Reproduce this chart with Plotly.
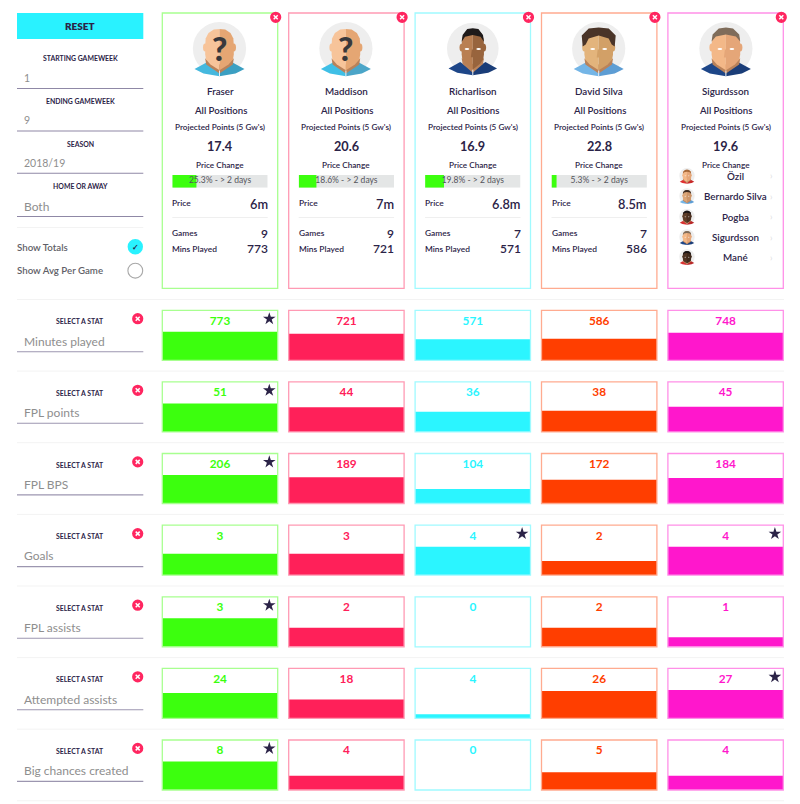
import plotly.graph_objects as go

W, H = 800, 804
FONT = "Lato"
DARK = "#2b2347"
GREY = "#8e8e8e"

players = ["Fraser", "Maddison", "Richarlison", "David Silva", "Sigurdsson"]
colors = ["#3cff0e", "#ff2059", "#2bf5ff", "#ff3e00", "#ff17cc"]
borders = ["#a8ff90", "#ff9ab4", "#a0faff", "#ffab90", "#ff90e8"]
projected = ["17.4", "20.6", "16.9", "22.8", "19.6"]
price_change = [25.3, 18.6, 19.8, 5.3]
prices = ["6m", "7m", "6.8m", "8.5m"]
games = [9, 9, 7, 7]
mins_played = [773, 721, 571, 586]
dropdown_names = ["Özil", "Bernardo Silva", "Pogba", "Sigurdsson", "Mané"]

stat_names = ["Minutes played", "FPL points", "FPL BPS", "Goals", "FPL assists",
              "Attempted assists", "Big chances created"]
minutes_played = [773, 721, 571, 586, 748]
fpl_points = [51, 44, 36, 38, 45]
fpl_bps = [206, 189, 104, 172, 184]
goals = [3, 3, 4, 2, 4]
fpl_assists = [3, 2, 0, 2, 1]
attempted_assists = [24, 18, 4, 26, 27]
big_chances = [8, 4, 0, 5, 4]
stat_values = [minutes_played, fpl_points, fpl_bps, goals, fpl_assists,
               attempted_assists, big_chances]

filters = [("STARTING GAMEWEEK", "1"), ("ENDING GAMEWEEK", "9"),
           ("SEASON", "2018/19"), ("HOME OR AWAY", "Both")]

col_x = list(range(5))
centers = [220 + 126.4 * i for i in col_x]
card_w = 115.4
row_tops = [310.3, 381.9, 453.5, 525.2, 596.8, 668.4, 740.0]
cell_h = 50

shapes = []
notes = []


def rect(x0, y0, x1, y1, fill="rgba(0,0,0,0)", line=None, lw=1.2):
    shapes.append(dict(type="rect", xref="x", yref="y", x0=x0, y0=y0, x1=x1, y1=y1,
                       fillcolor=fill, layer="above",
                       line=dict(color=line or "rgba(0,0,0,0)", width=lw if line else 0)))


def hline(x0, x1, y, color, lw=1):
    shapes.append(dict(type="line", xref="x", yref="y", x0=x0, x1=x1, y0=y, y1=y,
                       layer="above", line=dict(color=color, width=lw)))


def circle(cx, cy, rx, fill, ry=None, line=None, lw=1.2):
    ry = ry or rx
    shapes.append(dict(type="circle", xref="x", yref="y", x0=cx - rx, x1=cx + rx, y0=cy - ry, y1=cy + ry,
                       fillcolor=fill, layer="above",
                       line=dict(color=line or "rgba(0,0,0,0)", width=lw if line else 0)))


def poly(cx, cy, k, pts, fill):
    path = "M" + " L".join(f"{cx + k * a:.2f} {cy + k * b:.2f}" for a, b in pts) + " Z"
    shapes.append(dict(type="path", xref="x", yref="y", path=path, fillcolor=fill,
                       layer="above", line=dict(width=0)))


def note(x, y, text, size, color=DARK, anchor="center", weight=400):
    # annotations sit about 2px inside their anchor
    x = x - 2 if anchor == "left" else x + 2 if anchor == "right" else x
    notes.append(dict(xref="x", yref="y", x=x, y=y, text=text, showarrow=False, xanchor=anchor,
                      yanchor="middle", font=dict(family=FONT, size=size, color=color, weight=weight)))


def close_btn(cx, cy):
    circle(cx, cy, 5.6, "#ff2660")
    for sign in (1, -1):
        shapes.append(dict(type="line", xref="x", yref="y", x0=cx - 2, x1=cx + 2, y0=cy - 2 * sign, y1=cy + 2 * sign,
                           layer="above", line=dict(color="white", width=1.5)))


def avatar(cx, cy, k, skin, shirt, hair=None, wide=14.3, long_hair=False, question=False):
    half = [(0, -19.5), (0.4 * wide, -19), (0.77 * wide, -15.5), (0.97 * wide, -10), (wide, -3), (wide, 6),
            (0.94 * wide, 11), (0.63 * wide, 16), (0, 21.7)]
    circle(cx, cy, 26.6 * k, "#eeeeee")
    for side, tone_s in ((-1, shirt[0]), (1, shirt[1])):
        poly(cx, cy, k, [(0, 23), (side * 13, 14), (side * 25, 20.5), (side * 16, 25), (0, 27.7)], tone_s)
    poly(cx, cy, k, [(-wide, 10), (0, 16), (wide, 10), (wide - 1, 16), (0, 25), (-wide + 1, 16)], "#b9825a")
    circle(cx - wide * k, cy - 1 * k, 2.2 * k, skin[0], ry=4 * k)
    circle(cx + wide * k, cy - 1 * k, 2.2 * k, skin[1], ry=4 * k)
    poly(cx, cy, k, [(-a, b) for a, b in half], skin[0])
    poly(cx, cy, k, half, skin[1])
    poly(cx, cy, k, [(-0.5, 22), (0.5, 22), (0.5, 27.7), (-0.5, 27.7)], "#e8eef4")
    if hair:
        if long_hair:
            poly(cx, cy, k, [(-16, -2), (-17, -13), (-10, -20), (0, -21), (10, -20), (17, -13), (16, -2),
                             (13, -4), (10, -10), (0, -13), (-10, -10), (-13, -4)], hair)
        else:
            poly(cx, cy, k, [(-wide, -7), (-wide + 1, -14), (-0.5 * wide, -20), (0, -21), (0.5 * wide, -20),
                             (wide - 1, -14), (wide, -7), (0.7 * wide, -12), (0, -14), (-0.7 * wide, -12)], hair)
    if question:
        note(cx, cy - 1, "?", 33, "#38383c", weight=900)
    else:
        circle(cx - 6 * k, cy + 0.5 * k, 2.4 * k, "white", ry=1 * k)
        circle(cx + 6 * k, cy + 0.5 * k, 2.4 * k, "white", ry=1 * k)
        poly(cx, cy, k, [(-1, 1), (1, 1), (2, 9), (-2, 9)], skin[1])


# big avatars, one for each card
pale = ("#f7c49a", "#e5a673")
avatar(centers[0] - 0.5, 48.5, 1, pale, ("#45b8de", "#3b9fc2"), question=True)
avatar(centers[1] - 0.5, 48.5, 1, pale, ("#3fbfe6", "#4ba5c8"), question=True)
avatar(centers[2], 48.5, 0.97, ("#b97f52", "#98643d"), ("#1d4688", "#1a3d78"), hair="#1e1a1a", wide=11.5)
avatar(centers[3] - 0.5, 48.5, 1, ("#e3b47c", "#d2a067"), ("#74b5e6", "#5d9dd4"), hair="#4a3428", long_hair=True)
avatar(centers[4] + 0.3, 48.5, 1, ("#f3b888", "#e5a678"), ("#1d4688", "#1a3d78"), hair="#7f6c5a")

# player cards
for i, name in enumerate(players):
    c = centers[i]
    left, right = c - card_w / 2, c + card_w / 2
    rect(left, 13, right, 288.3, line=borders[i], lw=1.3)
    close_btn(right - 2, 17.3)
    note(c, 91, name, 9.8, weight=600)
    note(c, 110.7, "All Positions", 9.6, weight=600)
    note(c, 127.3, "Projected Points (5 Gw's)", 8.2, weight=600)
    note(c, 145.7, projected[i], 12.7, weight=700)
    note(c, 165, "Price Change", 8.2, weight=600)
    if i < 4:
        note(left + 10, 203, "Price", 8.4, anchor="left", weight=600)
        note(right - 10, 203.5, prices[i], 12.8, anchor="right", weight=600)
        hline(left + 10, right - 10, 217.5, "#efefef")
        note(left + 10, 233, "Games", 8.4, anchor="left", weight=600)
        note(right - 10, 233, str(games[i]), 12, anchor="right", weight=600)
        note(left + 10, 248.5, "Mins Played", 8.4, anchor="left", weight=600)
        note(right - 10, 248.5, str(mins_played[i]), 12, anchor="right", weight=600)

# dropdown open on the last card
drop_ys = [175.7, 196, 216.7, 237, 257]
mini = [(("#f3b888", "#e5a678"), ("#e03030", "#c82828"), "#a86a3a"),
        (("#dca678", "#cc9468"), ("#74b5e6", "#5d9dd4"), "#3a2a20"),
        (("#5e3d28", "#4c3020"), ("#d83030", "#b82828"), "#1a1414"),
        (("#f3b888", "#e5a678"), ("#1d4688", "#1a3d78"), "#7f6c5a"),
        (("#4f3424", "#402a1c"), ("#d83030", "#b82828"), "#1a1414")]
for n, y, m in zip(dropdown_names, drop_ys, mini):
    avatar(687, y, 0.29, m[0], m[1], hair=m[2])
    note(735, y, n, 9.8, weight=600)
    note(771.7, y, "›", 9, "#dddddd")

# left panel
rect(17, 13, 143.3, 39, fill="#29f2ff")
note(80, 26, "RESET", 10, weight=800)
for (label, value), y_label, y_value, y_line in zip(filters, [58.3, 101, 143.5, 186], [78, 120.3, 163, 206],
                                                    [88.5, 131, 173.3, 216.5]):
    note(80, y_label, label, 6.9, weight=700)
    note(24, y_value, value, 10.5 if value[0].isdigit() else 12, GREY, anchor="left")
    hline(17, 143.3, y_line, "#8f88a6", 1.1)
hline(17, 143.3, 227.5, "#f3f3f3")
note(17, 246.5, "Show Totals", 9.7, "#5f5f68", anchor="left", weight=600)
note(17, 270, "Show Avg Per Game", 9.7, "#5f5f68", anchor="left", weight=600)
circle(135.3, 246.7, 7.7, "#29f2ff")
note(135.3, 246.7, "✓", 8, DARK, weight=700)
circle(135.3, 270.7, 7.4, "white", line="#a8a8a8", lw=1.1)

# stat row chrome
for name, top in zip(stat_names, row_tops):
    hline(17, 784, top - 10.8, "#f3f3f3")
    note(80, top + 11, "SELECT A STAT", 6.9, weight=700)
    close_btn(137.7, top + 8.4)
    note(24, top + 30.7, name, 12, GREY, anchor="left")
    hline(17, 143.3, top + 41.4, "#9c96b0", 1.1)
    for i in col_x:
        rect(centers[i] - card_w / 2, top, centers[i] + card_w / 2, top + cell_h, line=borders[i], lw=1.3)
hline(17, 784, row_tops[-1] + 60.8, "#f3f3f3")

fig = go.Figure()
axes = {
    "xaxis": dict(domain=[0, 1], range=[0, W], visible=False, fixedrange=True),
    "yaxis": dict(domain=[0, 1], range=[H, 0], visible=False, fixedrange=True),
}
# keeps the pixel axes alive for the shapes and annotations
fig.add_trace(go.Scatter(x=[0, W], y=[0, H], mode="markers", marker=dict(opacity=0), hoverinfo="skip"))

axis_no = 2
x_lo, x_hi = (centers[0] - 63.2) / W, (centers[4] + 63.2) / W
for values, top in zip(stat_values, row_tops):
    y_top = max(values) / 0.57
    axes[f"xaxis{axis_no}"] = dict(domain=[x_lo, x_hi], range=[-0.5, 4.5], visible=False, fixedrange=True,
                                   anchor=f"y{axis_no}")
    axes[f"yaxis{axis_no}"] = dict(domain=[1 - (top + cell_h) / H, 1 - top / H], range=[0, y_top], visible=False,
                                   fixedrange=True, anchor=f"x{axis_no}")
    fig.add_trace(go.Bar(x=col_x, y=values, width=0.913, marker=dict(color=colors, line=dict(width=0)),
                         xaxis=f"x{axis_no}", yaxis=f"y{axis_no}", hoverinfo="skip"))
    fig.add_trace(go.Scatter(x=col_x, y=[y_top * (1 - 11.5 / cell_h)] * 5, mode="text",
                             text=[str(v) for v in values], textposition="middle center", cliponaxis=False,
                             textfont=dict(family=FONT, size=11.8, color=colors, weight=700),
                             xaxis=f"x{axis_no}", yaxis=f"y{axis_no}", hoverinfo="skip"))
    best = [i for i in col_x if values[i] == max(values)]
    fig.add_trace(go.Scatter(x=[i + 0.39 for i in best], y=[y_top * (1 - 8.5 / cell_h)] * len(best), mode="markers",
                             marker=dict(symbol="star", size=9.5, color=DARK, line=dict(width=0)), cliponaxis=False,
                             xaxis=f"x{axis_no}", yaxis=f"y{axis_no}", hoverinfo="skip"))
    axis_no += 1

# price change progress bars
for i, pct in enumerate(price_change):
    left = centers[i] - card_w / 2 + 10
    right = centers[i] + card_w / 2 - 10
    axes[f"xaxis{axis_no}"] = dict(domain=[left / W, right / W], range=[0, 100], visible=False, fixedrange=True,
                                   anchor=f"y{axis_no}")
    axes[f"yaxis{axis_no}"] = dict(domain=[1 - 187.7 / H, 1 - 175 / H], range=[-0.5, 0.5], visible=False,
                                   fixedrange=True, anchor=f"x{axis_no}")
    fig.add_trace(go.Bar(x=[100], y=[0], width=1, orientation="h", marker=dict(color="#e4e6e6", line=dict(width=0)),
                         xaxis=f"x{axis_no}", yaxis=f"y{axis_no}", hoverinfo="skip"))
    fig.add_trace(go.Bar(x=[pct], y=[0], width=1, orientation="h", marker=dict(color=colors[0], line=dict(width=0)),
                         xaxis=f"x{axis_no}", yaxis=f"y{axis_no}", hoverinfo="skip"))
    fig.add_trace(go.Scatter(x=[50], y=[0], mode="text", text=[f"{pct}% - > 2 days"], textposition="middle center",
                             textfont=dict(family=FONT, size=8.5, color="#55555c"),
                             xaxis=f"x{axis_no}", yaxis=f"y{axis_no}", hoverinfo="skip"))
    axis_no += 1

fig.update_layout(width=W, height=H, margin=dict(l=0, r=0, t=0, b=0), showlegend=False, barmode="overlay",
                  paper_bgcolor="white", plot_bgcolor="white", shapes=shapes, annotations=notes, **axes)
fig.write_html("out.html", config={"displayModeBar": False},
               post_script="document.body.style.margin='0';document.body.style.overflow='hidden';")
